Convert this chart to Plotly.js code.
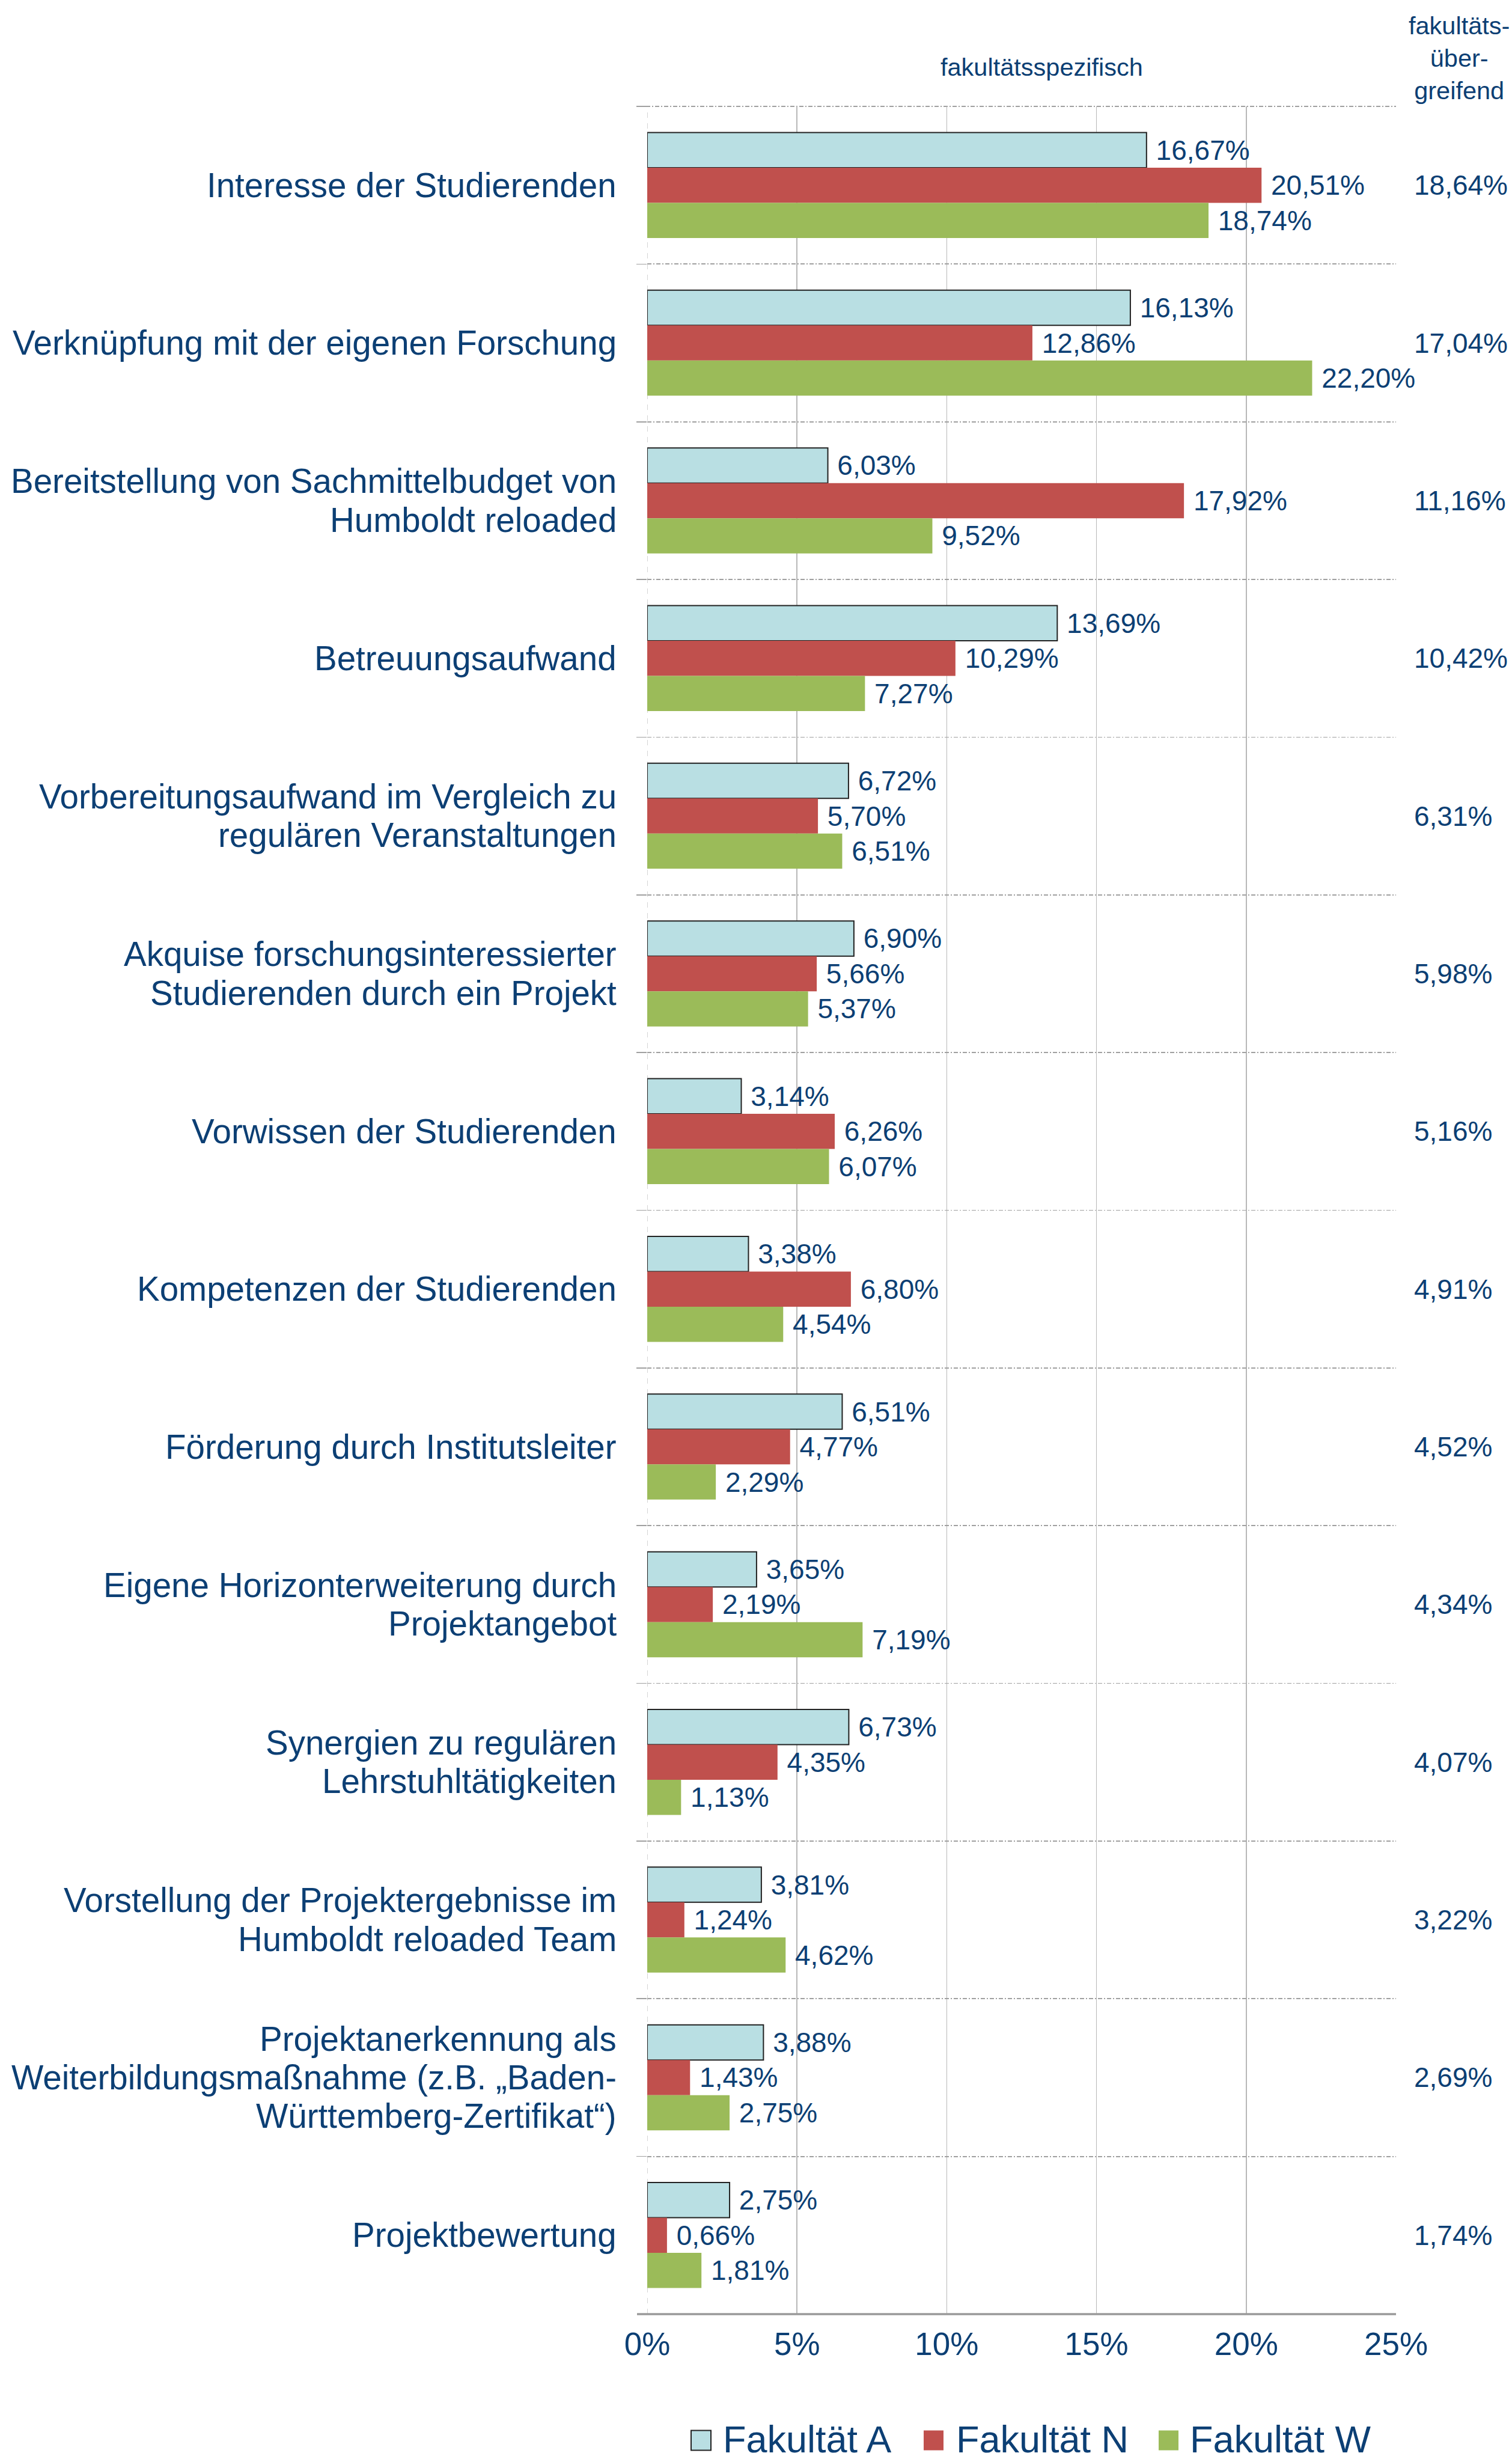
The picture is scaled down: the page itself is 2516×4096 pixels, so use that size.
<!DOCTYPE html>
<html>
<head>
<meta charset="utf-8">
<script src="https://cdn.plot.ly/plotly-3.0.1.min.js"></script>
<style>html,body{margin:0;padding:0;background:#ffffff}#chart{width:2516px;height:4096px}</style>
</head>
<body>
<div id="chart"></div>
<script>
// ---------- data ----------
const categories = [
  'Interesse der Studierenden',
  'Verknüpfung mit der eigenen Forschung',
  'Bereitstellung von Sachmittelbudget von<br>Humboldt reloaded',
  'Betreuungsaufwand',
  'Vorbereitungsaufwand im Vergleich zu<br>regulären Veranstaltungen',
  'Akquise forschungsinteressierter<br>Studierenden durch ein Projekt',
  'Vorwissen der Studierenden',
  'Kompetenzen der Studierenden',
  'Förderung durch Institutsleiter',
  'Eigene Horizonterweiterung durch<br>Projektangebot',
  'Synergien zu regulären<br>Lehrstuhltätigkeiten',
  'Vorstellung der Projektergebnisse im<br>Humboldt reloaded Team',
  'Projektanerkennung als<br>Weiterbildungsmaßnahme (z.B. „Baden-<br>Württemberg-Zertifikat“)',
  'Projektbewertung'
];
const fakultaetA = [16.67, 16.13, 6.03, 13.69, 6.72, 6.90, 3.14, 3.38, 6.51, 3.65, 6.73, 3.81, 3.88, 2.75];
const fakultaetN = [20.51, 12.86, 17.92, 10.29, 5.70, 5.66, 6.26, 6.80, 4.77, 2.19, 4.35, 1.24, 1.43, 0.66];
const fakultaetW = [18.74, 22.20, 9.52, 7.27, 6.51, 5.37, 6.07, 4.54, 2.29, 7.19, 1.13, 4.62, 2.75, 1.81];
const uebergreifend = [18.64, 17.04, 11.16, 10.42, 6.31, 5.98, 5.16, 4.91, 4.52, 4.34, 4.07, 3.22, 2.69, 1.74];
const seriesNames = ['Fakultät A', 'Fakultät N', 'Fakultät W'];
const xTickVals = [0, 5, 10, 15, 20, 25];
const xTickText = ['0%', '5%', '10%', '15%', '20%', '25%'];
const headerSpecific = 'fakultätsspezifisch';
const headerOverall = 'fakultäts-<br>über-<br>greifend';

// ---------- styling ----------
const W = 2516, H = 4096;
const M = {l: 1077, r: 193, t: 177, b: 246};
const FONT = 'Liberation Sans, Arial, Helvetica, sans-serif';
const NAVY = '#0C3F74';
const colors = ['#B9DFE3', '#C0504D', '#9BBB59'];
const outline = [{color: '#222222', width: 2}, {color: '#C0504D', width: 0}, {color: '#9BBB59', width: 0}];
const pw = W - M.l - M.r, ph = H - M.t - M.b;
const px2x = p => (p - M.l) / pw;
const px2y = p => (H - M.b - p) / ph;
const fmt = v => v.toFixed(2).replace('.', ',') + '%';
const LABEL_SIZE = 56.5, LABEL_LINE = 64.4;

const seriesValues = [fakultaetA, fakultaetN, fakultaetW];
const traces = seriesValues.map((vals, i) => ({
  type: 'bar',
  orientation: 'h',
  name: seriesNames[i],
  y: categories,
  x: vals,
  marker: {color: colors[i], line: outline[i]},
  text: vals.map(v => '\u00A0' + fmt(v)),
  textposition: 'outside',
  textfont: {family: FONT, size: 46, color: NAVY},
  constraintext: 'none',
  cliponaxis: false,
  showlegend: false,
  hoverinfo: 'skip'
}));

const annotations = [];
// category labels (one annotation per line, tighter line spacing than plotly's default)
categories.forEach((c) => {
  const lines = c.split('<br>');
  lines.forEach((ln, k) => {
    annotations.push({
      xref: 'paper', yref: 'y', x: px2x(1028), y: c,
      xanchor: 'right', yanchor: 'middle', showarrow: false,
      yshift: -(k - (lines.length - 1) / 2) * LABEL_LINE,
      text: ln,
      font: {family: FONT, size: LABEL_SIZE, color: NAVY}
    });
  });
});
// faculty-wide column
categories.forEach((c, i) => {
  annotations.push({
    xref: 'paper', yref: 'y', x: px2x(2351), y: c,
    xanchor: 'left', yanchor: 'middle', showarrow: false,
    text: fmt(uebergreifend[i]),
    font: {family: FONT, size: 46, color: NAVY}
  });
});
annotations.push({
  xref: 'paper', yref: 'paper', x: px2x(1733), y: px2y(112),
  xanchor: 'center', yanchor: 'middle', showarrow: false,
  text: headerSpecific, font: {family: FONT, size: 41.5, color: NAVY}
});
annotations.push({
  xref: 'paper', yref: 'paper', x: px2x(2428), y: px2y(97),
  xanchor: 'center', yanchor: 'middle', showarrow: false, align: 'center',
  text: headerOverall, font: {family: FONT, size: 41.5, color: NAVY}
});

// custom legend (squares + labels)
const legendSq = [1150, 1537, 1928];
const legendTx = [1201, 1589, 1978];
const LEG_Y = 4060;
const shapes = [];
seriesNames.forEach((n, i) => {
  shapes.push({
    type: 'rect', xref: 'paper', yref: 'paper',
    x0: px2x(legendSq[i]), x1: px2x(legendSq[i] + 33),
    y0: px2y(LEG_Y + 16.5), y1: px2y(LEG_Y - 16.5),
    fillcolor: colors[i],
    line: i === 0 ? {color: '#222222', width: 2} : {width: 0}
  });
  annotations.push({
    xref: 'paper', yref: 'paper', x: px2x(legendTx[i]), y: px2y(LEG_Y - 2),
    xanchor: 'left', yanchor: 'middle', showarrow: false,
    text: n, font: {family: FONT, size: 63, color: NAVY}
  });
});
// dashed 0% line
shapes.push({
  type: 'line', xref: 'x', yref: 'paper', x0: 0, x1: 0, y0: 0, y1: 1,
  line: {color: '#BDBDBD', width: 1.3, dash: 'dash'}, layer: 'below'
});
// top boundary (dash-dot, like the category separators)
shapes.push({
  type: 'line', xref: 'paper', yref: 'paper', x0: px2x(1060), x1: 1, y0: 1, y1: 1,
  line: {color: '#A0A0A0', width: 1.8, dash: '7px,3px,2px,3px'}, layer: 'below'
});
// bottom axis line (extends slightly left of plot)
shapes.push({
  type: 'line', xref: 'paper', yref: 'paper', x0: px2x(1060), x1: 1, y0: 0, y1: 0,
  line: {color: '#9A9A9A', width: 3.5}
});

const layout = {
  width: W, height: H,
  margin: M,
  paper_bgcolor: '#ffffff', plot_bgcolor: '#ffffff',
  font: {family: FONT, color: NAVY},
  barmode: 'group',
  bargap: 0.331,
  bargroupgap: 0,
  showlegend: false,
  xaxis: {
    range: [0, 25],
    tickmode: 'array', tickvals: xTickVals, ticktext: xTickText,
    showgrid: true, gridcolor: '#B8B8B8', gridwidth: 1.6,
    zeroline: false, showline: false, ticks: '',
    tickfont: {family: FONT, size: 53, color: NAVY},
    ticklabelstandoff: 14,
    fixedrange: true
  },
  yaxis: {
    type: 'category',
    range: [categories.length - 0.5, -0.5],
    autorange: false,
    tickson: 'boundaries',
    ticks: 'outside', ticklen: 17, tickcolor: '#A0A0A0', tickwidth: 1.6,
    showgrid: true, gridcolor: '#A0A0A0', gridwidth: 1.8, griddash: '7px,3px,2px,3px',
    zeroline: false, showline: false,
    showticklabels: false,
    fixedrange: true
  },
  annotations: annotations,
  shapes: shapes
};

Plotly.newPlot('chart', traces, layout, {staticPlot: true, displayModeBar: false});
</script>
</body>
</html>
